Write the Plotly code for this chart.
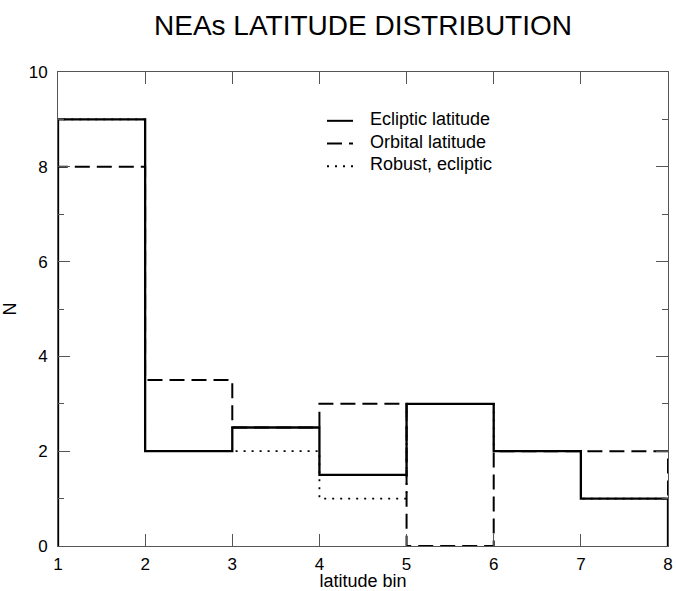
import plotly.graph_objects as go

# Bin edges and counts per latitude bin
bin_edges = [1, 2, 3, 4, 5, 6, 7, 8]
ecliptic = [9, 2, 2.5, 1.5, 3, 2, 1]
orbital = [8, 3.5, 2.5, 3, 0, 2, 2]
robust = [9, 2, 2, 1, 3, 2, 1]

FONT = "Liberation Sans, Arial, Helvetica, sans-serif"
FRAME = "#555555"


def step_xy(edges, counts):
    # Histogram outline: start on the baseline, step across each bin, close on the baseline
    xs = [edges[0]] + list(edges) + [edges[-1]]
    ys = [0] + list(counts) + [counts[-1], 0]
    return xs, ys


fig = go.Figure()

# name, counts, dash pattern, width  (drawn bottom to top)
series = [
    ("Robust, ecliptic", robust, "2px,6px", 1.8),
    ("Orbital latitude", orbital, "15px,7px", 2),
    ("Ecliptic latitude", ecliptic, "solid", 2.3),
]
for name, counts, dash, width in series:
    xs, ys = step_xy(bin_edges, counts)
    fig.add_trace(go.Scatter(
        x=xs, y=ys, mode="lines", name=name, showlegend=False,
        line=dict(color="black", width=width, dash=dash, shape="hv"),
    ))

# Key in the upper middle of the frame: a short line sample and its label per series
key_rows = [0.901, 0.853, 0.805]
for (name, _, dash, width), ky in zip(reversed(series), key_rows):
    fig.add_shape(
        type="line", xref="paper", yref="paper",
        x0=0.441, x1=0.4836, y0=ky - 0.004, y1=ky - 0.004,
        line=dict(color="black", width=2, dash=dash),
    )
    fig.add_annotation(
        xref="paper", yref="paper", x=0.5082, y=ky,
        xanchor="left", yanchor="middle", showarrow=False,
        text=name, font=dict(family=FONT, size=18, color="black"),
    )

axis_common = dict(
    showgrid=False, zeroline=False, automargin=False,
    showline=True, linecolor=FRAME, linewidth=1,
    mirror="ticks", ticks="inside", tickcolor=FRAME, tickwidth=1,
    tickfont=dict(family=FONT, size=17, color="black"),
    title_font=dict(family=FONT, size=18, color="black"),
)

fig.update_xaxes(
    range=[1, 8], dtick=1, tick0=1, ticklen=12, ticklabelstandoff=3,
    title_text="latitude bin", title_standoff=0,
    **axis_common,
)
fig.update_yaxes(
    range=[0, 10], dtick=2, tick0=0, ticklen=12, ticklabelstandoff=6,
    minor=dict(dtick=1, tick0=0, ticks="inside", ticklen=6, tickcolor=FRAME),
    title_text="N", title_standoff=10,
    **axis_common,
)

fig.update_layout(
    width=676, height=591,
    margin=dict(l=58, r=8, t=72, b=45),
    paper_bgcolor="white", plot_bgcolor="white",
    showlegend=False,
    title=dict(
        text="NEAs LATITUDE DISTRIBUTION",
        xref="paper", x=0.5, xanchor="center", y=0.958, yanchor="middle",
        font=dict(family=FONT, size=28, color="black"),
    ),
)

fig.write_html("out.html")
